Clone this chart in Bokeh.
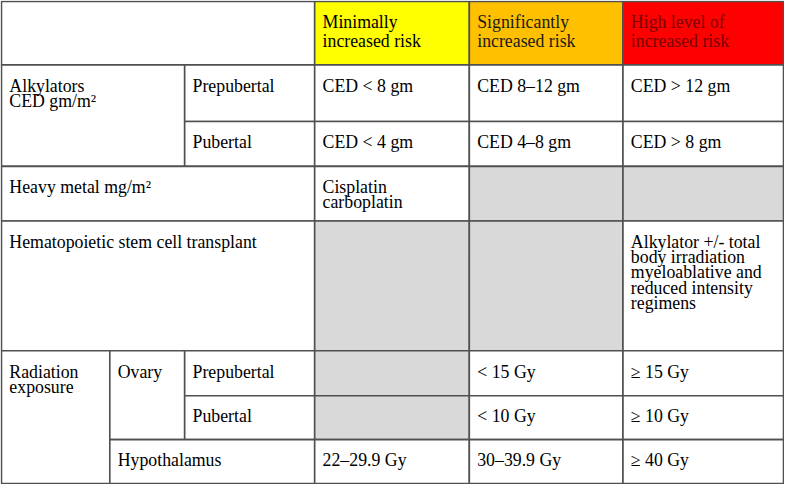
from bokeh.plotting import figure
from bokeh.models import Range1d, ColumnDataSource
from bokeh.core.properties import value
from bokeh.embed import file_html
from bokeh.resources import INLINE

# ---------------- table content ----------------
risk_levels = ["Minimally\nincreased risk",
               "Significantly\nincreased risk",
               "High level of\nincreased risk"]
alkylator_label = "Alkylators\nCED gm/m²"
puberty = ["Prepubertal", "Pubertal"]
alkylator_values = [["CED < 8 gm", "CED 8–12 gm", "CED > 12 gm"],
                    ["CED < 4 gm", "CED 4–8 gm", "CED > 8 gm"]]
heavy_metal_label = "Heavy metal mg/m²"
heavy_metal_values = ["Cisplatin\ncarboplatin", None, None]
hsct_label = "Hematopoietic stem cell transplant"
hsct_values = [None, None,
               "Alkylator +/- total\nbody irradiation\nmyeloablative and\nreduced intensity\nregimens"]
radiation_label = "Radiation\nexposure"
ovary_label = "Ovary"
ovary_values = [[None, "< 15 Gy", "≥ 15 Gy"],
                [None, "< 10 Gy", "≥ 10 Gy"]]
hypothalamus_label = "Hypothalamus"
hypothalamus_values = ["22–29.9 Gy", "30–39.9 Gy", "≥ 40 Gy"]

# ---------------- layout / style ----------------
COL = [3, 113, 189, 321, 478, 634, 797]
ROW = [3, 68, 126, 172, 228, 361, 407, 452, 497]
HEADER_FILLS = ["#FFFF00", "#FFC000", "#FF0000"]
HEADER_TEXT = ["#000000", "#1a1a1a", "#7a0000"]
GRAY = "#D9D9D9"
WHITE = "#FFFFFF"
BORDER = "#505050"
PAD_X = 8
FIRST_BASE = 21.3
BODY_LS = 15.7
HEAD_LS = 19.0

cells = []  # r0, r1, c0, c1, text, fill, text color, line spacing


def add(r0, r1, c0, c1, text, fill=WHITE, color="#000000", ls=BODY_LS):
    if text is None:
        fill = GRAY
        text = ""
    cells.append((r0, r1, c0, c1, text, fill, color, ls))


# header
add(0, 1, 0, 3, "")
for k, t in enumerate(risk_levels):
    add(0, 1, 3 + k, 4 + k, t, HEADER_FILLS[k], HEADER_TEXT[k], HEAD_LS)
# alkylators
add(1, 3, 0, 2, alkylator_label)
for i, pb in enumerate(puberty):
    add(1 + i, 2 + i, 2, 3, pb)
    for k, v in enumerate(alkylator_values[i]):
        add(1 + i, 2 + i, 3 + k, 4 + k, v)
# heavy metal
add(3, 4, 0, 3, heavy_metal_label)
for k, v in enumerate(heavy_metal_values):
    add(3, 4, 3 + k, 4 + k, v)
# HSCT
add(4, 5, 0, 3, hsct_label)
for k, v in enumerate(hsct_values):
    add(4, 5, 3 + k, 4 + k, v)
# radiation
add(5, 8, 0, 1, radiation_label)
add(5, 7, 1, 2, ovary_label)
for i, pb in enumerate(puberty):
    add(5 + i, 6 + i, 2, 3, pb)
    for k, v in enumerate(ovary_values[i]):
        add(5 + i, 6 + i, 3 + k, 4 + k, v)
add(7, 8, 1, 3, hypothalamus_label)
for k, v in enumerate(hypothalamus_values):
    add(7, 8, 3 + k, 4 + k, v)

quad = dict(left=[], right=[], top=[], bottom=[], fill=[])
txt = dict(x=[], y=[], text=[], color=[])
for r0, r1, c0, c1, text, fill, color, ls in cells:
    quad["left"].append(COL[c0])
    quad["right"].append(COL[c1])
    quad["top"].append(ROW[r0])
    quad["bottom"].append(ROW[r1])
    quad["fill"].append(fill)
    if text:
        for j, line in enumerate(text.split("\n")):
            txt["x"].append(COL[c0] + PAD_X)
            txt["y"].append(ROW[r0] + FIRST_BASE + j * ls)
            txt["text"].append(line)
            txt["color"].append(color)

p = figure(width=784, height=484, x_range=Range1d(2, 798), y_range=Range1d(498, 2),
           output_backend="svg", toolbar_location=None, min_border=0,
           x_axis_location=None, y_axis_location=None)
p.grid.visible = False
p.outline_line_color = None
p.background_fill_color = WHITE
p.border_fill_color = WHITE

p.quad(left="left", right="right", top="top", bottom="bottom", source=ColumnDataSource(quad),
       fill_color="fill", line_color=BORDER, line_width=1.6)
p.text(x="x", y="y", text="text", source=ColumnDataSource(txt), text_color="color",
       text_font=value("Liberation Serif"), text_font_size="17.8px",
       text_baseline="alphabetic", text_align="left")

open("out.html", "w").write(file_html(p, INLINE))
